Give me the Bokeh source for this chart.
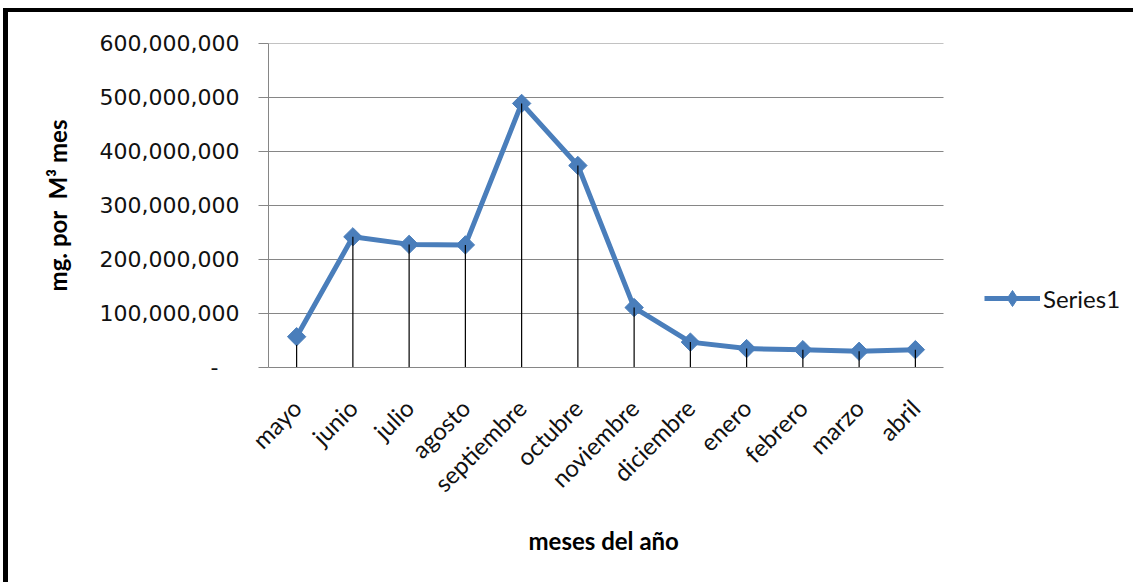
import math
from bokeh.plotting import figure
from bokeh.models import (Range1d, CustomJSTickFormatter, FixedTicker, Legend, LegendItem,
                          ColumnDataSource, CDSView, IndexFilter, Title)
from bokeh.embed import file_html
from bokeh.resources import INLINE

months = ["mayo", "junio", "julio", "agosto", "septiembre", "octubre",
          "noviembre", "diciembre", "enero", "febrero", "marzo", "abril"]
values = [57e6, 242e6, 228e6, 227e6, 489e6, 374e6,
          111e6, 47e6, 35e6, 33e6, 30e6, 33e6]
y_ticks = [0, 100e6, 200e6, 300e6, 400e6, 500e6, 600e6]
series_name = "Series1"
x_title = "meses del año"
y_title = "mg. por\u00a0\u00a0M³ mes"

n = len(months)
xpos = [i + 0.5 for i in range(n)]          # category centres
src = ColumnDataSource(dict(x=xpos, y=values, y0=[0] * n))

OX, OY = 8, 12   # page offset of the canvas caused by the outer frame border
W, H = 1138 - OX, 586 - OY
LEFT, TOP, BOTTOM = 268, 43, 367            # page pixel frame edges
PLOT_RIGHT = 943                            # where the category area ends
frame_w = 1138 - LEFT
x_end = n * frame_w / (PLOT_RIGHT - LEFT)   # extra room on the right for legend

p = figure(width=W, height=H, output_backend="svg", toolbar_location=None,
           x_range=Range1d(0, x_end), y_range=Range1d(0, 600e6),
           min_border_left=LEFT - OX, min_border_right=0,
           min_border_top=TOP - OY, min_border_bottom=586 - BOTTOM)
p.styles = {"margin-top": "8px", "margin-left": "3px",
            "border-top": "4px solid black", "border-left": "5px solid black"}
p.outline_line_color = None
p.background_fill_color = "white"
p.border_fill_color = "white"

grey = "#868686"
p.xgrid.grid_line_color = None
p.ygrid.grid_line_color = None
# horizontal gridlines only across the category area
gsrc = ColumnDataSource(dict(y=y_ticks[1:], x0=[0] * (len(y_ticks) - 1),
                             x1=[n] * (len(y_ticks) - 1)))
p.segment(x0="x0", y0="y", x1="x1", y1="y", source=gsrc, line_color=grey, line_width=1)

# y axis
p.yaxis.ticker = FixedTicker(ticks=y_ticks)
p.yaxis.axis_line_color = grey
p.yaxis.major_tick_line_color = grey
p.yaxis.major_tick_out = 10
p.yaxis.major_tick_in = 0
p.yaxis.minor_tick_line_color = None
p.yaxis.major_label_standoff = 19
p.yaxis.major_label_text_font = "DejaVu Sans"
p.yaxis.major_label_text_font_size = "22px"
p.yaxis.major_label_text_color = "#111111"
p.yaxis.formatter = CustomJSTickFormatter(code="""
if (tick == 0) { return '-\\u00a0\\u00a0\\u00a0'; }
return Math.round(tick).toFixed(0).replace(/\\B(?=(\\d{3})+(?!\\d))/g, ',');
""")
p.yaxis.axis_label = y_title
p.yaxis.axis_label_text_font = "Lato"
p.yaxis.axis_label_text_font_style = "bold"
p.yaxis.axis_label_text_font_size = "24px"
p.yaxis.axis_label_text_color = "black"
p.yaxis.axis_label_standoff = 25

# x axis
p.xaxis.ticker = FixedTicker(ticks=xpos)
p.xaxis.bounds = (0, n)
p.xaxis.formatter = CustomJSTickFormatter(args=dict(months=months),
                                          code="return months[Math.floor(tick)];")
p.xaxis.axis_line_color = grey
p.xaxis.major_tick_line_color = None
p.xaxis.minor_tick_line_color = None
p.xaxis.major_label_orientation = math.pi / 4
p.xaxis.major_label_text_font = "Lato"
p.xaxis.major_label_text_font_size = "24px"
p.xaxis.major_label_text_color = "#111111"
p.xaxis.major_label_standoff = 30

# x axis title, centred under the category area
p.add_layout(Title(text=x_title, align="left", offset=260, standoff=27,
                   text_font="Lato", text_font_style="bold", text_font_size="24px",
                   text_color="black"), "below")

blue = "#4A7EBB"
ln = p.line("x", "y", source=src, line_color=blue, line_width=5)
sc = p.scatter("x", "y", source=src, marker="square", angle=math.pi / 4, size=13,
               fill_color=blue, line_color=blue)
p.segment(x0="x", y0="y0", x1="x", y1="y", source=src, line_color="black", line_width=1.2)
# legend marker (a diamond hidden inside the first plotted marker)
leg_sc = p.scatter("x", "y", source=src, view=CDSView(filter=IndexFilter([0])),
                   marker="diamond", size=16, fill_color=blue, line_color=blue)

legend = Legend(items=[LegendItem(label=series_name, renderers=[ln, leg_sc])],
                location=(984 - LEFT, 49),
                glyph_width=56, glyph_height=40,
                padding=0, margin=0, label_standoff=3,
                label_text_font="Lato", label_text_font_size="24px",
                label_text_color="#111111",
                border_line_color=None, background_fill_alpha=0)
p.add_layout(legend, "center")

open("out.html", "w").write(file_html(p, INLINE))
